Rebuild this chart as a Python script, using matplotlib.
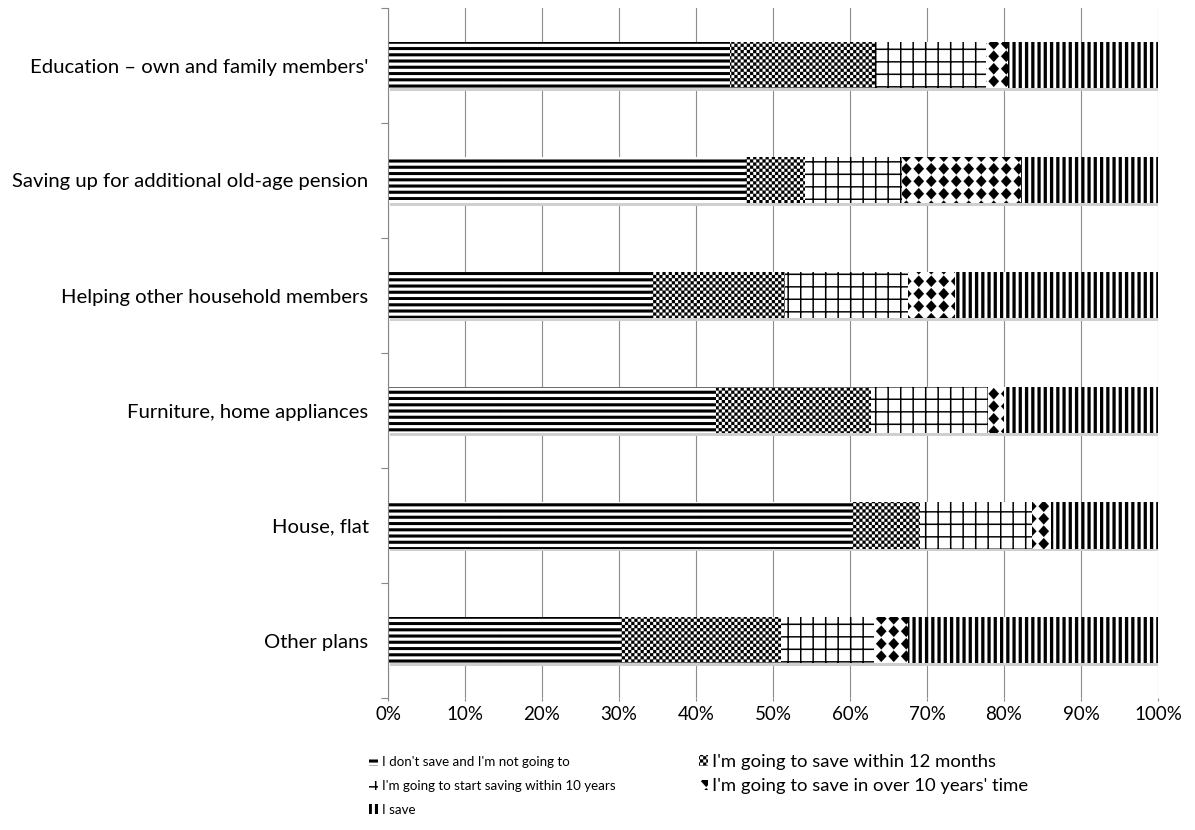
import numpy as np
import matplotlib
matplotlib.use("Agg")
import matplotlib.pyplot as plt
import matplotlib.hatch as mhatch
from matplotlib.path import Path
from matplotlib.transforms import offset_copy

# data (percent of respondents)
categories = ["Education \u2013 own and family members'",
              "Saving up for additional old-age pension",
              "Helping other household members",
              "Furniture, home appliances",
              "House, flat",
              "Other plans"]
no_save = [44.4, 46.4, 34.1, 42.6, 60.3, 30.3]
within_12m = [18.9, 7.7, 17.4, 20.1, 8.8, 20.8]
within_10y = [14.4, 12.6, 16.0, 15.2, 14.6, 12.0]
over_10y = [2.8, 15.5, 6.1, 2.1, 2.4, 4.4]
i_save = [19.5, 17.8, 26.4, 20.0, 13.9, 32.5]
series_labels = ["I don't save and I'm not going to",
                 "I'm going to save within 12 months",
                 "I'm going to start saving within 10 years",
                 "I'm going to save in over 10 years' time",
                 "I save"]
x_ticks = list(range(0, 101, 10))


# Excel-like fill patterns, built as filled quads inside one hatch tile
class TileHatch(mhatch.HatchPatternBase):
    key = None

    def __init__(self, hatch, density):
        self.quads = self.make_quads() if self.key in hatch else []
        self.num_vertices = 5 * len(self.quads)

    def set_vertices_and_codes(self, vertices, codes):
        for k, q in enumerate(self.quads):
            vertices[5 * k:5 * k + 4] = q
            vertices[5 * k + 4] = q[0]
            codes[5 * k] = Path.MOVETO
            codes[5 * k + 1:5 * k + 4] = Path.LINETO
            codes[5 * k + 4] = Path.CLOSEPOLY


def rect(x0, y0, x1, y1):
    return [(x0, y0), (x1, y0), (x1, y1), (x0, y1)]


class HStripes(TileHatch):
    key = '-'

    def make_quads(self):
        n = 16
        return [rect(0, k / n, 1, (k + 0.47) / n) for k in range(n)]


class VStripes(TileHatch):
    key = '|'

    def make_quads(self):
        n = 16
        return [rect(k / n, 0, (k + 0.5) / n, 1) for k in range(n)]


class Grid(TileHatch):
    key = '+'

    def make_quads(self):
        n, w = 8, 0.014
        return ([rect(k / n, 0, k / n + w, 1) for k in range(n)] +
                [rect(0, k / n, 1, k / n + w) for k in range(n)])


class Checker(TileHatch):
    key = '.'

    def make_quads(self):
        n = 32
        return [rect(i / n, j / n, (i + 1) / n, (j + 1) / n)
                for i in range(n) for j in range(n) if (i + j) % 2 == 0]


class Diamonds(TileHatch):
    key = '*'

    def make_quads(self):
        n, hw, hh = 8, 0.42 / 8, 0.46 / 8
        out = []
        for i in range(n):
            for j in range(n):
                cx, cy = (i + 0.5) / n, (j + 0.5) / n
                out.append([(cx + hw, cy), (cx, cy + hh), (cx - hw, cy), (cx, cy - hh)])
        return out


mhatch._hatch_types = [HStripes, VStripes, Grid, Checker, Diamonds]

plt.rcParams['font.family'] = ['Lato', 'DejaVu Sans']
plt.rcParams['hatch.linewidth'] = 0.1

fig = plt.figure(figsize=(11.95, 8.30), dpi=100)
ax = fig.add_axes([388 / 1195, 1 - 698 / 830, 770 / 1195, 690 / 830])

y = np.arange(len(categories))
series = [no_save, within_12m, within_10y, over_10y, i_save]
hatches = ['-', '.', '+', '*', '|']
bar_h = 0.4

# soft shadow under each bar
totals = np.sum(series, axis=0)
shadow_tr = offset_copy(ax.transData, fig=fig, x=1.5, y=-2.5, units='dots')
ax.barh(y, totals, height=bar_h, color='#cfcfcf', linewidth=0,
        transform=shadow_tr, zorder=1.5)

left = np.zeros(len(categories))
handles = []
for vals, h, lab in zip(series, hatches, series_labels):
    b = ax.barh(y, vals, left=left, height=bar_h, color='white',
                edgecolor='black', linewidth=0, hatch=h, label=lab, zorder=2)
    handles.append(b)
    left += np.array(vals)

ax.set_xlim(0, 100)
ax.set_ylim(len(categories) - 0.5, -0.5)
ax.set_xticks(x_ticks)
ax.set_xticklabels([f"{t}%" for t in x_ticks])
ax.set_yticks(y)
ax.set_yticklabels(categories)
ax.set_yticks(np.arange(-0.5, len(categories), 1), minor=True)
ax.tick_params(axis='y', which='major', length=0, pad=14, labelsize=14.6)
ax.tick_params(axis='y', which='minor', length=5, color='#868686', width=0.8)
ax.tick_params(axis='x', length=2, color='#868686', width=0.8, pad=4, labelsize=13.5)
ax.grid(axis='x', color='#8c8c8c', linewidth=0.8)
ax.set_axisbelow(True)
for s in ['top', 'right', 'bottom']:
    ax.spines[s].set_visible(False)
ax.spines['left'].set_color('#868686')
ax.spines['left'].set_linewidth(0.8)

# legend: Excel squeezed the left column, so it is set smaller than the right one
left_col = [0, 2, 4]
right_col = [1, 3]
fig.legend([handles[i] for i in left_col], [series_labels[i] for i in left_col],
           loc='upper left', bbox_to_anchor=(369 / 1195, 1 - 756 / 830),
           frameon=False, fontsize=9.6, handlelength=0.68, handleheight=0.68,
           handletextpad=0.3, labelspacing=0.89, borderpad=0, borderaxespad=0)
fig.legend([handles[i] for i in right_col], [series_labels[i] for i in right_col],
           loc='upper left', bbox_to_anchor=(699 / 1195, 1 - 754 / 830),
           frameon=False, fontsize=13.3, handlelength=0.49, handleheight=0.49,
           handletextpad=0.2, labelspacing=0.45, borderpad=0, borderaxespad=0)

fig.savefig("out.png", dpi=100)
